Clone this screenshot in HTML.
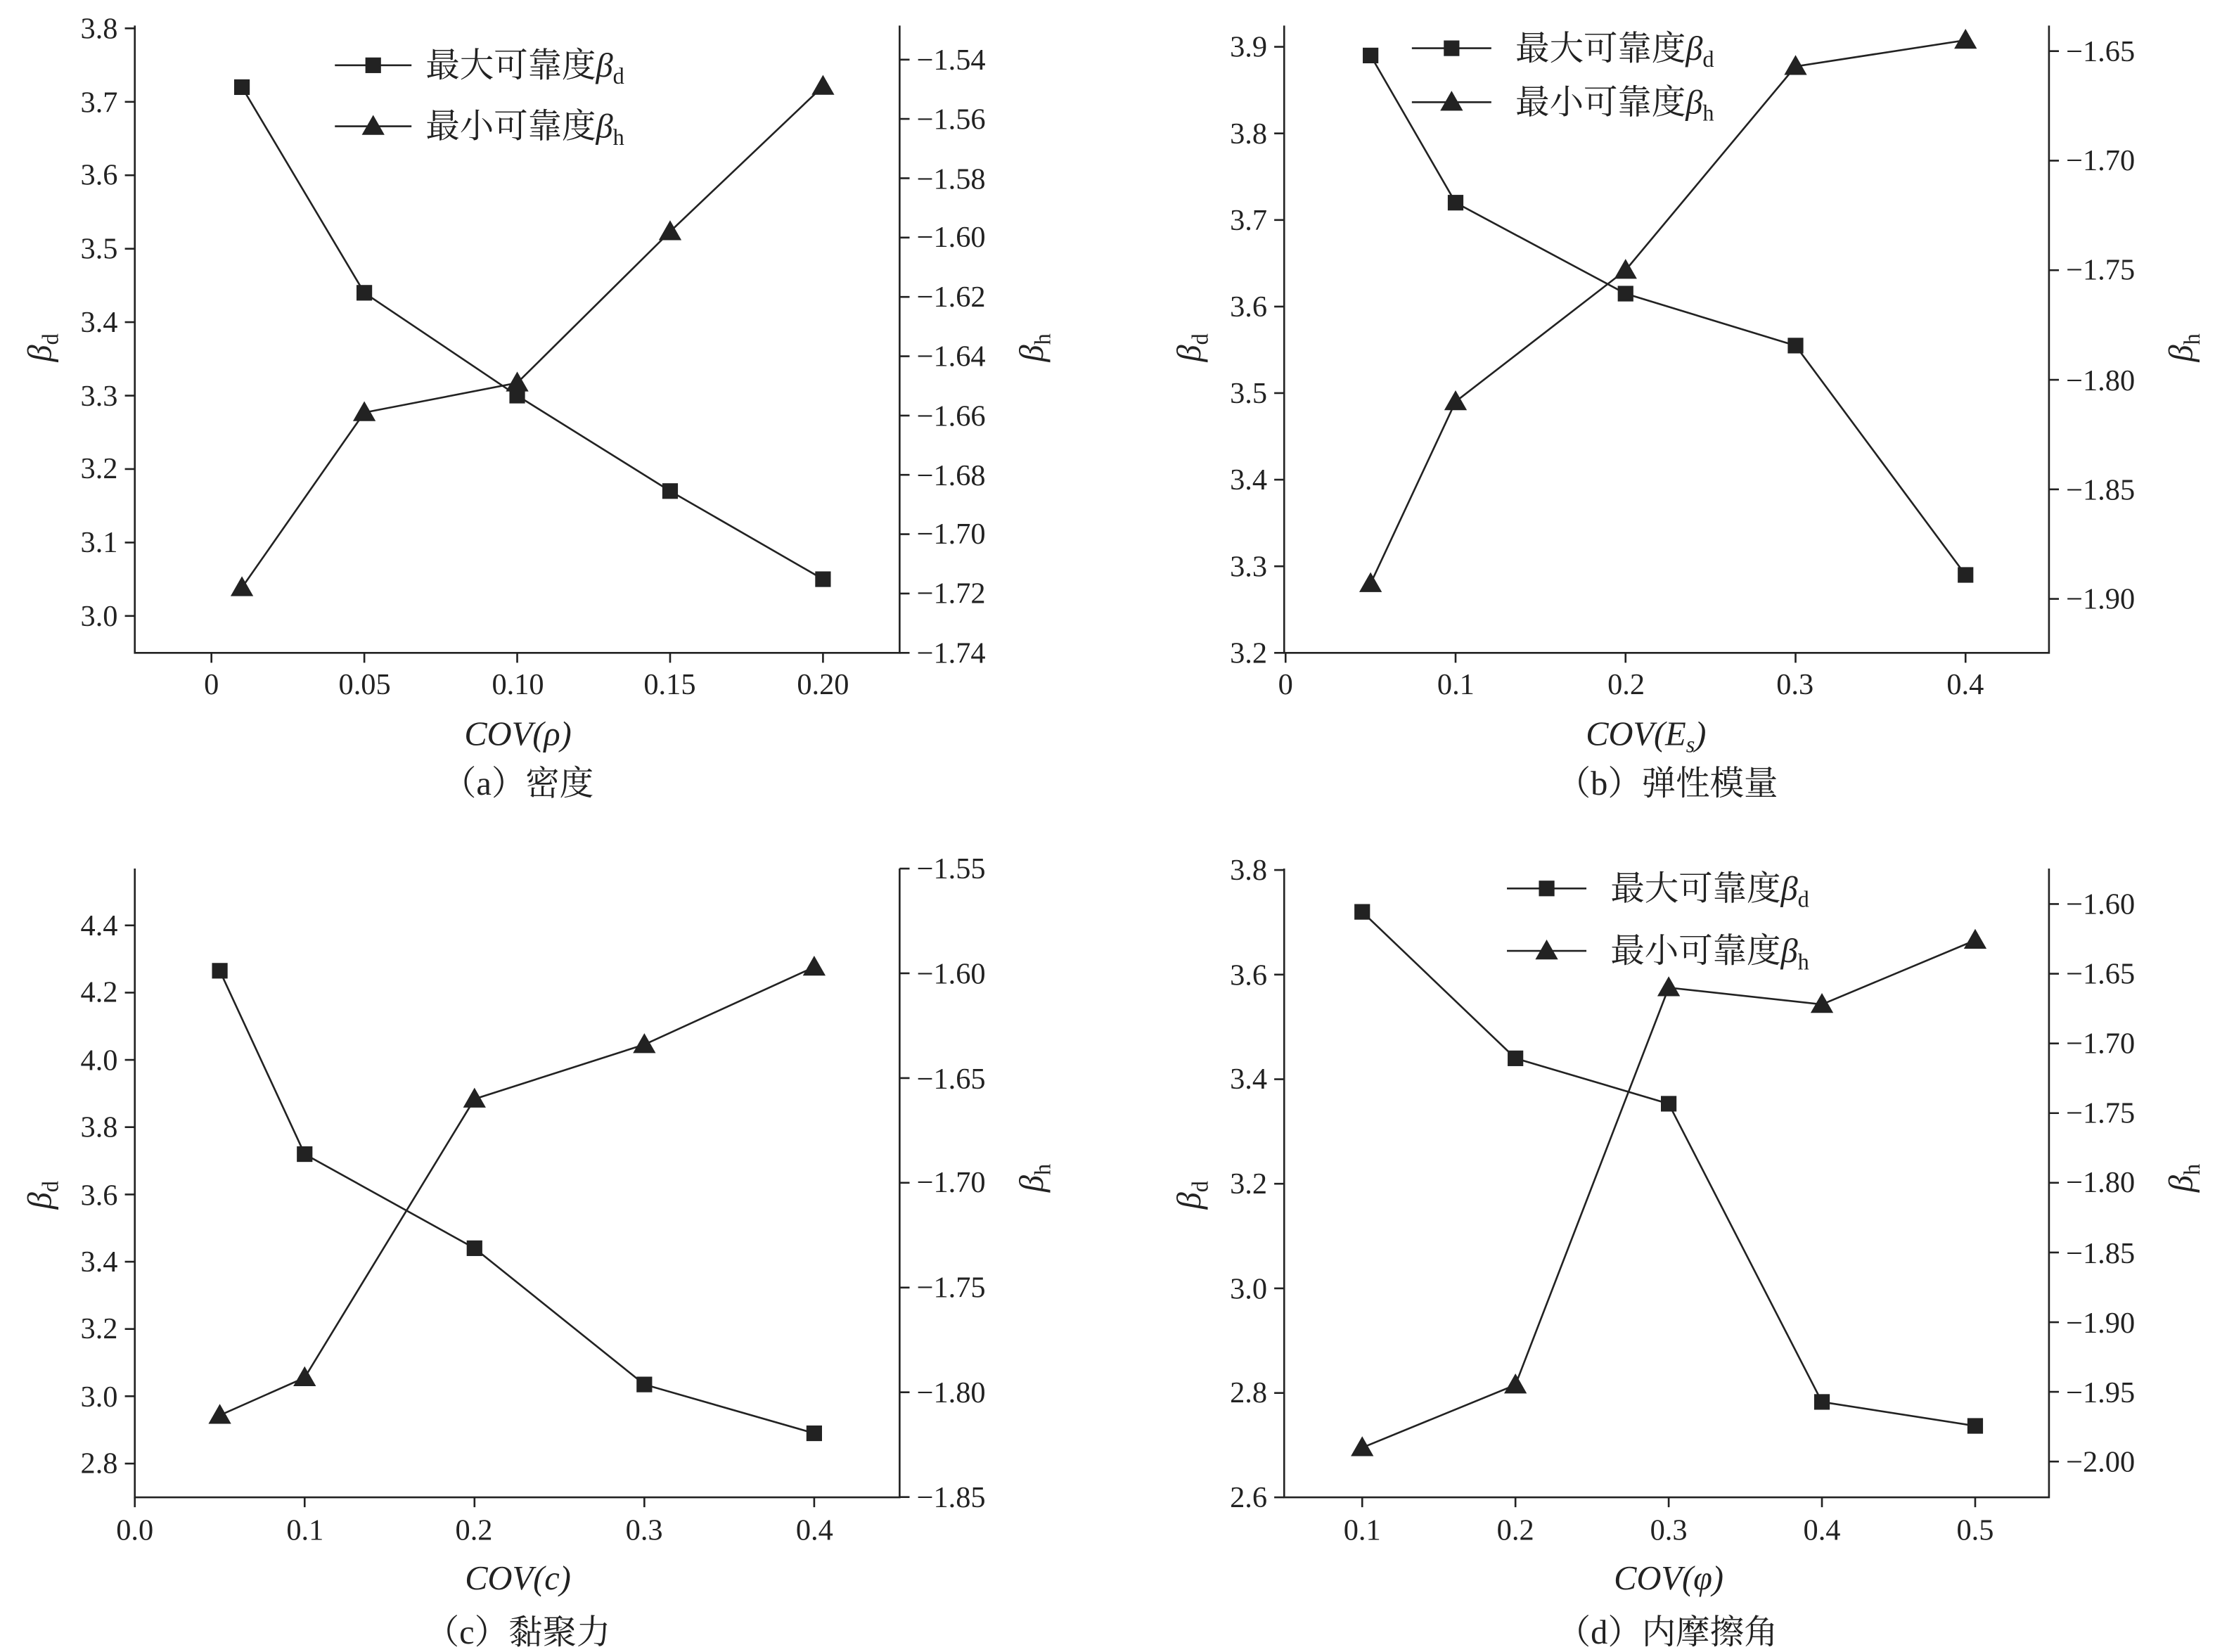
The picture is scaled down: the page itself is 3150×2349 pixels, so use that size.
<!DOCTYPE html>
<html><head><meta charset="utf-8"><style>
html,body{margin:0;padding:0;background:#fff}
svg{display:block}
text{font-family:"Liberation Serif","Noto Serif CJK SC",serif;fill:#222}
.t{font-size:21px}
.c{font-size:24px;font-family:"Liberation Serif","Noto Serif CJK SC",serif}
</style></head><body>
<svg width="3150" height="2349" viewBox="0 0 1561 1164" preserveAspectRatio="none" xmlns="http://www.w3.org/2000/svg">
<defs>
<rect id="sq" x="-5.5" y="-5.5" width="11" height="11" fill="#222"/>
<path id="tr" d="M0,-8 L8,6 L-8,6 Z" fill="#222"/>
</defs>
<g stroke="#222" stroke-width="1.3" fill="none">
<!-- boxes -->
<path d="M95,18V460H634V18"/>
<path d="M905,18V460H1444V18"/>
<path d="M95,612V1055H634V612"/>
<path d="M905,612V1055H1444V612"/>
<!-- (a) ticks -->
<path d="M95,20h-7M95,71.75h-7M95,123.5h-7M95,175.25h-7M95,227h-7M95,278.75h-7M95,330.5h-7M95,382.25h-7M95,434h-7"/>
<path d="M634,42h7M634,83.8h7M634,125.6h7M634,167.4h7M634,209.2h7M634,251h7M634,292.8h7M634,334.6h7M634,376.4h7M634,418.2h7M634,460h7"/>
<path d="M149,460v7M256.75,460v7M364.5,460v7M472.25,460v7M580,460v7"/>
<!-- (b) ticks -->
<path d="M905,33h-7M905,94h-7M905,155h-7M905,216h-7M905,277h-7M905,338h-7M905,399h-7M905,460h-7"/>
<path d="M1444,36h7M1444,113.2h7M1444,190.4h7M1444,267.6h7M1444,344.8h7M1444,422h7"/>
<path d="M906,460v7M1025.8,460v7M1145.6,460v7M1265.4,460v7M1385.2,460v7"/>
<!-- (c) ticks -->
<path d="M95,652h-7M95,699.4h-7M95,746.8h-7M95,794.2h-7M95,841.6h-7M95,889h-7M95,936.4h-7M95,983.8h-7M95,1031.2h-7"/>
<path d="M634,612h7M634,685.8h7M634,759.6h7M634,833.4h7M634,907.2h7M634,981h7M634,1054.8h7"/>
<path d="M95,1055v7M214.7,1055v7M334.4,1055v7M454.1,1055v7M573.8,1055v7"/>
<!-- (d) ticks -->
<path d="M905,613h-7M905,686.7h-7M905,760.4h-7M905,834.1h-7M905,907.8h-7M905,981.5h-7M905,1055h-7"/>
<path d="M1444,637h7M1444,686.1h7M1444,735.2h7M1444,784.3h7M1444,833.4h7M1444,882.5h7M1444,931.6h7M1444,980.7h7M1444,1029.8h7"/>
<path d="M960,1055v7M1068,1055v7M1176,1055v7M1284,1055v7M1392,1055v7"/>
<!-- series -->
<polyline points="170.5,61.4 256.75,206.3 364.5,278.75 472.25,346 580,408.1"/>
<polyline points="170.5,414 256.75,290.7 364.5,269.8 472.25,163.2 580,60.8"/>
<polyline points="965.9,39.1 1025.8,142.8 1145.6,206.9 1265.4,243.5 1385.2,405.1"/>
<polyline points="965.9,411.2 1025.8,283 1145.6,190.4 1265.4,46.8 1385.2,28.3"/>
<polyline points="154.9,684 214.7,813.2 334.4,879.5 454.1,975.5 573.8,1009.9"/>
<polyline points="154.9,997.2 214.7,970.7 334.4,774.4 454.1,736 573.8,681.4"/>
<polyline points="960,642.5 1068,745.7 1176,777.7 1284,987.8 1392,1004.7"/>
<polyline points="960,1020 1068,975.8 1176,695.9 1284,707.7 1392,662.5"/>
<!-- legends -->
<path d="M236,46h54M236,89h54M995,34h56M995,72h56M1062,626h56M1062,670h56"/>
</g>
<g>
<use href="#sq" x="170.5" y="61.4"/><use href="#sq" x="256.75" y="206.3"/><use href="#sq" x="364.5" y="278.75"/><use href="#sq" x="472.25" y="346"/><use href="#sq" x="580" y="408.1"/>
<use href="#tr" x="170.5" y="414"/><use href="#tr" x="256.75" y="290.7"/><use href="#tr" x="364.5" y="269.8"/><use href="#tr" x="472.25" y="163.2"/><use href="#tr" x="580" y="60.8"/>
<use href="#sq" x="965.9" y="39.1"/><use href="#sq" x="1025.8" y="142.8"/><use href="#sq" x="1145.6" y="206.9"/><use href="#sq" x="1265.4" y="243.5"/><use href="#sq" x="1385.2" y="405.1"/>
<use href="#tr" x="965.9" y="411.2"/><use href="#tr" x="1025.8" y="283"/><use href="#tr" x="1145.6" y="190.4"/><use href="#tr" x="1265.4" y="46.8"/><use href="#tr" x="1385.2" y="28.3"/>
<use href="#sq" x="154.9" y="684"/><use href="#sq" x="214.7" y="813.2"/><use href="#sq" x="334.4" y="879.5"/><use href="#sq" x="454.1" y="975.5"/><use href="#sq" x="573.8" y="1009.9"/>
<use href="#tr" x="154.9" y="997.2"/><use href="#tr" x="214.7" y="970.7"/><use href="#tr" x="334.4" y="774.4"/><use href="#tr" x="454.1" y="736"/><use href="#tr" x="573.8" y="681.4"/>
<use href="#sq" x="960" y="642.5"/><use href="#sq" x="1068" y="745.7"/><use href="#sq" x="1176" y="777.7"/><use href="#sq" x="1284" y="987.8"/><use href="#sq" x="1392" y="1004.7"/>
<use href="#tr" x="960" y="1020"/><use href="#tr" x="1068" y="975.8"/><use href="#tr" x="1176" y="695.9"/><use href="#tr" x="1284" y="707.7"/><use href="#tr" x="1392" y="662.5"/>
<use href="#sq" x="263" y="46"/><use href="#tr" x="263" y="89"/>
<use href="#sq" x="1023" y="34"/><use href="#tr" x="1023" y="72"/>
<use href="#sq" x="1090" y="626"/><use href="#tr" x="1090" y="670"/>
</g>
<!-- tick labels -->
<g class="t" text-anchor="end">
<text x="83" y="27">3.8</text><text x="83" y="79">3.7</text><text x="83" y="130">3.6</text><text x="83" y="182">3.5</text><text x="83" y="234">3.4</text><text x="83" y="286">3.3</text><text x="83" y="337">3.2</text><text x="83" y="389">3.1</text><text x="83" y="441">3.0</text>
<text x="893" y="40">3.9</text><text x="893" y="101">3.8</text><text x="893" y="162">3.7</text><text x="893" y="223">3.6</text><text x="893" y="284">3.5</text><text x="893" y="345">3.4</text><text x="893" y="406">3.3</text><text x="893" y="467">3.2</text>
<text x="83" y="659">4.4</text><text x="83" y="706">4.2</text><text x="83" y="754">4.0</text><text x="83" y="801">3.8</text><text x="83" y="849">3.6</text><text x="83" y="896">3.4</text><text x="83" y="943">3.2</text><text x="83" y="991">3.0</text><text x="83" y="1038">2.8</text>
<text x="893" y="620">3.8</text><text x="893" y="694">3.6</text><text x="893" y="767">3.4</text><text x="893" y="841">3.2</text><text x="893" y="915">3.0</text><text x="893" y="988">2.8</text><text x="893" y="1062">2.6</text>
</g>
<g class="t" text-anchor="start">
<text x="646" y="49">−1.54</text><text x="646" y="91">−1.56</text><text x="646" y="133">−1.58</text><text x="646" y="174">−1.60</text><text x="646" y="216">−1.62</text><text x="646" y="258">−1.64</text><text x="646" y="300">−1.66</text><text x="646" y="342">−1.68</text><text x="646" y="383">−1.70</text><text x="646" y="425">−1.72</text><text x="646" y="467">−1.74</text>
<text x="1456" y="43">−1.65</text><text x="1456" y="120">−1.70</text><text x="1456" y="197">−1.75</text><text x="1456" y="275">−1.80</text><text x="1456" y="352">−1.85</text><text x="1456" y="429">−1.90</text>
<text x="646" y="619">−1.55</text><text x="646" y="693">−1.60</text><text x="646" y="767">−1.65</text><text x="646" y="840">−1.70</text><text x="646" y="914">−1.75</text><text x="646" y="988">−1.80</text><text x="646" y="1062">−1.85</text>
<text x="1456" y="644">−1.60</text><text x="1456" y="693">−1.65</text><text x="1456" y="742">−1.70</text><text x="1456" y="791">−1.75</text><text x="1456" y="840">−1.80</text><text x="1456" y="890">−1.85</text><text x="1456" y="939">−1.90</text><text x="1456" y="988">−1.95</text><text x="1456" y="1037">−2.00</text>
</g>
<g class="t" text-anchor="middle">
<text x="149" y="489">0</text><text x="257" y="489">0.05</text><text x="365" y="489">0.10</text><text x="472" y="489">0.15</text><text x="580" y="489">0.20</text>
<text x="906" y="489">0</text><text x="1026" y="489">0.1</text><text x="1146" y="489">0.2</text><text x="1265" y="489">0.3</text><text x="1385" y="489">0.4</text>
<text x="95" y="1085">0.0</text><text x="215" y="1085">0.1</text><text x="334" y="1085">0.2</text><text x="454" y="1085">0.3</text><text x="574" y="1085">0.4</text>
<text x="960" y="1085">0.1</text><text x="1068" y="1085">0.2</text><text x="1176" y="1085">0.3</text><text x="1284" y="1085">0.4</text><text x="1392" y="1085">0.5</text>
</g>
<!-- axis labels -->
<g class="c" text-anchor="middle" font-style="italic">
<text x="365" y="525">COV(ρ)</text>
<text x="1160" y="525">COV(E<tspan font-size="16" dy="5">s</tspan><tspan dy="-5">)</tspan></text>
<text x="365" y="1120">COV(c)</text>
<text x="1176" y="1120">COV(φ)</text>
</g>
<g class="c" text-anchor="middle">
<text x="365" y="560">（a）密度</text>
<text x="1175" y="560">（b）弹性模量</text>
<text x="365" y="1158">（c）黏聚力</text>
<text x="1175" y="1158">（d）内摩擦角</text>
</g>
<g class="c">
<text transform="translate(36,245) rotate(-90)" text-anchor="middle" font-style="italic">β<tspan font-size="16" font-style="normal" dy="5">d</tspan></text>
<text transform="translate(846,245) rotate(-90)" text-anchor="middle" font-style="italic">β<tspan font-size="16" font-style="normal" dy="5">d</tspan></text>
<text transform="translate(36,842) rotate(-90)" text-anchor="middle" font-style="italic">β<tspan font-size="16" font-style="normal" dy="5">d</tspan></text>
<text transform="translate(846,842) rotate(-90)" text-anchor="middle" font-style="italic">β<tspan font-size="16" font-style="normal" dy="5">d</tspan></text>
<text transform="translate(735,245) rotate(-90)" text-anchor="middle" font-style="italic">β<tspan font-size="16" font-style="normal" dy="5">h</tspan></text>
<text transform="translate(1545,245) rotate(-90)" text-anchor="middle" font-style="italic">β<tspan font-size="16" font-style="normal" dy="5">h</tspan></text>
<text transform="translate(735,830) rotate(-90)" text-anchor="middle" font-style="italic">β<tspan font-size="16" font-style="normal" dy="5">h</tspan></text>
<text transform="translate(1545,830) rotate(-90)" text-anchor="middle" font-style="italic">β<tspan font-size="16" font-style="normal" dy="5">h</tspan></text>
</g>
<!-- legend text -->
<g class="c">
<text x="300" y="54">最大可靠度<tspan font-style="italic">β</tspan><tspan font-size="16" dy="5">d</tspan></text>
<text x="300" y="97">最小可靠度<tspan font-style="italic">β</tspan><tspan font-size="16" dy="5">h</tspan></text>
<text x="1068" y="42">最大可靠度<tspan font-style="italic">β</tspan><tspan font-size="16" dy="5">d</tspan></text>
<text x="1068" y="80">最小可靠度<tspan font-style="italic">β</tspan><tspan font-size="16" dy="5">h</tspan></text>
<text x="1135" y="634">最大可靠度<tspan font-style="italic">β</tspan><tspan font-size="16" dy="5">d</tspan></text>
<text x="1135" y="678">最小可靠度<tspan font-style="italic">β</tspan><tspan font-size="16" dy="5">h</tspan></text>
</g>
</svg>
</body></html>
